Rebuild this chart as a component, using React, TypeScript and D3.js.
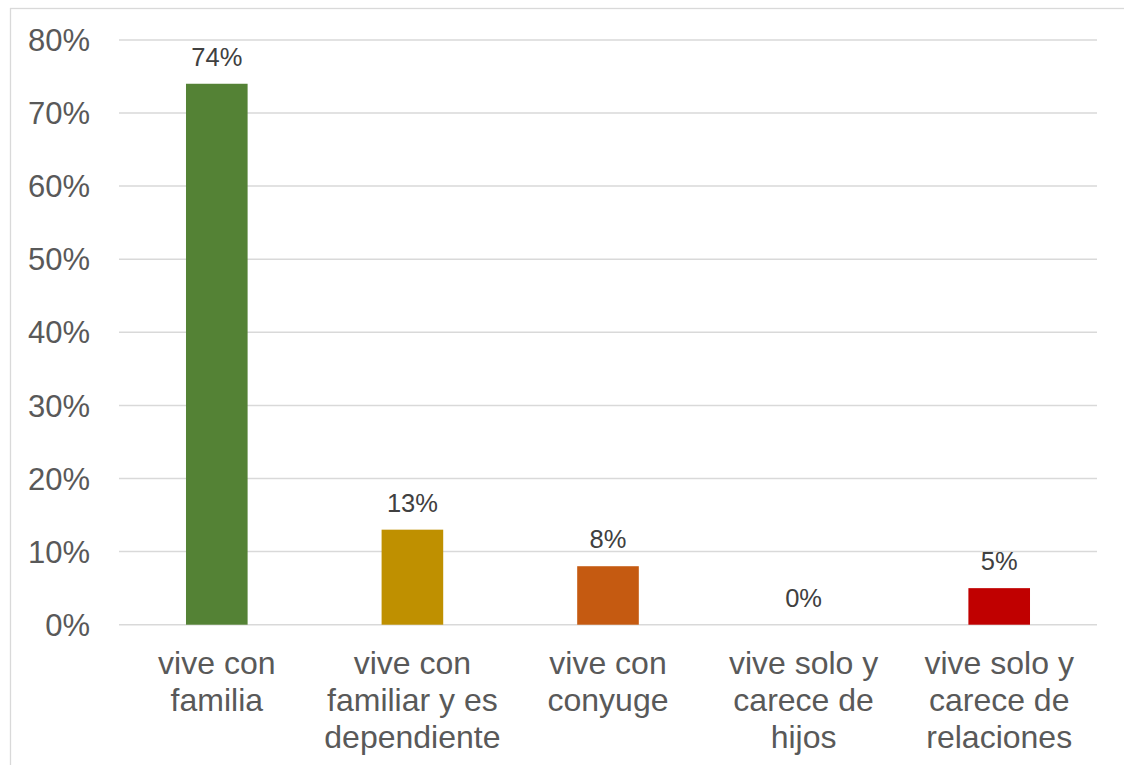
import React from "react";
import * as d3 from "d3";

const categories: string[][] = [
  ["vive con", "familia"],
  ["vive con", "familiar y es", "dependiente"],
  ["vive con", "conyuge"],
  ["vive solo y", "carece de", "hijos"],
  ["vive solo y", "carece de", "relaciones"],
];
const values = [0.74, 0.13, 0.08, 0, 0.05];
const colors = ["#548235", "#BF9000", "#C55A11", "#7F7F7F", "#C00000"];
const yTicks = [0, 0.1, 0.2, 0.3, 0.4, 0.5, 0.6, 0.7, 0.8];

const W = 1124;
const H = 765;
const left = 119;
const right = 1097;
const top = 39.9;
const bottom = 624.7;

export default function App() {
  const x = d3
    .scaleBand<number>()
    .domain(d3.range(values.length))
    .range([left, right])
    .paddingInner(0)
    .paddingOuter(0);
  const y = d3.scaleLinear().domain([0, 0.8]).range([bottom, top]);
  const bw = x.bandwidth() * 0.315;
  const fmt = d3.format(".0%");
  const font = "'Liberation Sans', Arial, sans-serif";

  return (
    <svg
      width={W}
      height={H}
      style={{ position: "absolute", left: 0, top: 0, display: "block" }}
    >
      <rect x={0} y={0} width={W} height={H} fill="#fff" />
      <rect
        x={10.5}
        y={8.5}
        width={W + 20}
        height={H + 20}
        fill="none"
        stroke="#d9d9d9"
        strokeWidth={1.3}
      />
      {yTicks.map((t) => (
        <g key={t}>
          <line
            x1={left}
            x2={right}
            y1={y(t)}
            y2={y(t)}
            stroke="#d9d9d9"
            strokeWidth={1.5}
          />
          <text
            x={90}
            y={y(t)}
            dy="0.36em"
            textAnchor="end"
            fontFamily={font}
            fontSize={31}
            fill="#595959"
          >
            {fmt(t)}
          </text>
        </g>
      ))}
      {values.map((v, i) => {
        const cx = (x(i) as number) + x.bandwidth() / 2;
        return (
          <g key={i}>
            {v > 0 && (
              <rect
                x={cx - bw / 2}
                y={y(v)}
                width={bw}
                height={y(0) - y(v)}
                fill={colors[i]}
              />
            )}
            <text
              x={cx}
              y={y(v) - 18}
              textAnchor="middle"
              fontFamily={font}
              fontSize={25.5}
              fill="#404040"
            >
              {fmt(v)}
            </text>
            {categories[i].map((line, j) => (
              <text
                key={j}
                x={cx}
                y={673.5 + j * 37}
                textAnchor="middle"
                fontFamily={font}
                fontSize={32}
                fill="#595959"
              >
                {line}
              </text>
            ))}
          </g>
        );
      })}
    </svg>
  );
}
